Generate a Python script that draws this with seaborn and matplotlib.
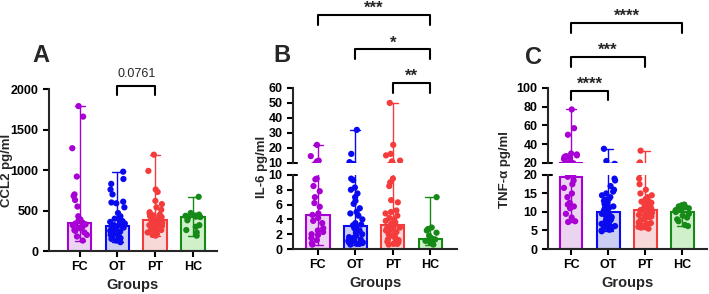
import numpy as np
import pandas as pd
import seaborn as sns
import matplotlib.pyplot as plt

# grupos y colores
grupos = ["FC", "OT", "PT", "HC"]
oscuros = ["#a800d4", "#0a0af0", "#f43c3c", "#168a16"]
claros = ["#ecd0f4", "#c4c8f8", "#fcd4d4", "#ccf6c4"]

# CCL2 (pg/ml)
ccl2_fc = [1790, 1660, 1270, 920, 700, 680, 630, 550, 430, 390, 380, 350, 340, 330,
           320, 300, 290, 280, 260, 250, 230, 200, 180, 130]
ccl2_ot = [980, 890, 830, 760, 700, 610, 600, 590, 540, 470, 430, 400, 380, 370, 360,
           350, 340, 330, 320, 310, 300, 300, 290, 280, 270, 260, 250, 240, 230, 220,
           210, 200, 190, 180, 170, 160, 150, 130, 110]
ccl2_pt = [1190, 990, 760, 730, 620, 580, 540, 510, 480, 460, 450, 440, 430, 420, 410,
           400, 395, 390, 385, 380, 375, 370, 365, 360, 350, 340, 330, 320, 310, 300,
           290, 280, 270, 260, 250, 230, 210, 200, 190]
ccl2_hc = [670, 470, 450, 440, 435, 430, 425, 420, 410, 380, 320, 300, 260, 230, 190]

# IL-6 (pg/ml)
il6_fc = [22, 14.5, 11.5, 11, 9.5, 9.4, 8.5, 7.8, 7.0, 6.2, 5.7, 4.8, 4.6, 4.2, 3.8,
          3.5, 2.8, 2.5, 2.3, 2.0, 1.9, 1.5, 1.2, 0.8, 0.6]
il6_ot = [32, 16, 10.5, 9.5, 9.3, 8.3, 8.0, 7.5, 7.0, 6.5, 6.1, 5.5, 5.0, 4.8, 4.5,
          4.0, 3.5, 3.3, 3.2, 3.1, 3.0, 2.8, 2.5, 2.2, 2.0, 1.8, 1.6, 1.5, 1.3, 1.2,
          1.1, 1.0, 0.9, 0.9, 0.8, 0.8, 0.7, 0.7, 0.6]
il6_pt = [50, 22, 16, 15, 11.5, 11, 9.5, 9.0, 8.5, 6.6, 6.3, 5.2, 5.0, 4.8, 4.5, 4.2,
          4.0, 3.8, 3.6, 3.4, 3.3, 3.2, 3.1, 3.0, 2.9, 2.8, 2.6, 2.5, 2.3, 2.2, 2.0,
          1.8, 1.6, 1.5, 1.3, 1.2, 1.1, 1.0, 0.9, 0.8, 0.7, 0.7, 0.6]
il6_hc = [7.0, 2.9, 2.7, 2.5, 2.2, 1.8, 1.5, 1.4, 1.3, 1.2, 1.1, 1.0, 0.9, 0.8, 0.6]

# TNF-a (pg/ml)
tnf_fc = [77, 57, 50, 30, 29, 28, 27, 27, 26, 25, 24, 22, 19.6, 19.5, 18.5, 17.5, 16.5,
          15, 14, 12.5, 12, 11.5, 11, 9.5, 8.5, 7.5, 7.3]
tnf_ot = [35, 22, 19, 18.5, 17, 16, 15.5, 15, 14.5, 14, 13.5, 13.3, 13, 12.8, 12.5,
          12.2, 12, 11.8, 11.5, 11.2, 11, 10.8, 10.5, 10.2, 10, 9.8, 9.5, 9.2, 9, 8.8,
          8.5, 8.2, 8, 8.0, 7.8, 7.5, 7.2, 7, 7.0, 6.8, 6.5, 6.2, 6, 6.0, 5.8, 5.5, 5.5,
          5.2, 5, 4.8]
tnf_pt = [33, 20.5, 19, 17.5, 16, 15, 14.5, 14, 13.5, 13, 12.8, 12.5, 12.3, 12, 11.8,
          11.6, 11.4, 11.2, 11, 10.9, 10.8, 10.7, 10.5, 10.3, 10.2, 10, 9.8, 9.6, 9.4,
          9.2, 9, 8.8, 8.6, 8.3, 8, 7.8, 7.5, 7.2, 7, 6.8, 6.5, 6.2, 6, 5.8, 5.5]
tnf_hc = [12, 11.8, 11.5, 11.2, 11, 10.8, 10.5, 10.2, 10, 9.5, 9, 8.5, 8, 7.5, 6.5, 6.2]


def tabla(valores):
    return pd.DataFrame({"grupo": np.repeat(grupos, [len(v) for v in valores]),
                         "valor": np.concatenate(valores)})


sns.set_style("ticks")
plt.rcParams["font.family"] = ["Liberation Sans", "DejaVu Sans"]
plt.rcParams["font.weight"] = "bold"
plt.rcParams["axes.linewidth"] = 1.5


def dibujar(ax, df, semilla, xlim):
    sns.barplot(data=df, x="grupo", y="valor", hue="grupo", order=grupos,
                hue_order=grupos, palette=claros, estimator="median",
                errorbar=("pi", 100), capsize=0.27, err_kws={"linewidth": 1.0},
                width=0.62, linewidth=1.5, legend=False, ax=ax)
    for p, c in zip(ax.patches, oscuros):
        p.set_edgecolor(c)
    for l, c in zip(ax.lines, oscuros):
        l.set_color(c)
    np.random.seed(semilla)
    sns.stripplot(data=df, x="grupo", y="valor", hue="grupo", order=grupos,
                  hue_order=grupos, palette=oscuros, size=4.5, jitter=0.2,
                  linewidth=0, legend=False, ax=ax, zorder=3)
    ax.set_xlim(*xlim)
    ax.set_xlabel("")
    ax.set_ylabel("")
    sns.despine(ax=ax)
    ax.tick_params(width=1.5, length=4, labelsize=9, colors="black")


def abajo(ax):
    ax.set_xlabel("Groups", fontsize=10.5, fontweight="bold", labelpad=3)


def arriba(ax):
    ax.spines["bottom"].set_visible(False)
    ax.tick_params(bottom=False, labelbottom=False)
    ax.plot([0, 0.025], [0, 0], transform=ax.transAxes, color="k", lw=1.5, clip_on=False)


def corchete(ax, x1, x2, y_alto, y_bajo, texto, y_texto, tam=12, peso="bold"):
    ax.plot([x1, x1, x2, x2], [y_bajo, y_alto, y_alto, y_bajo], color="k", lw=1.5,
            clip_on=False)
    ax.text((x1 + x2) / 2, y_texto, texto, ha="center", va="center", fontsize=tam,
            fontweight=peso, clip_on=False)


fig = plt.figure(figsize=(7.09, 2.94), dpi=100)

# Panel A
axA = fig.add_axes([0.069, 0.146, 0.237, 0.551])
dibujar(axA, tabla([ccl2_fc, ccl2_ot, ccl2_pt, ccl2_hc]), 1, (-0.82, 3.64))
axA.set_ylim(0, 2000)
axA.set_yticks([0, 500, 1000, 1500, 2000])
abajo(axA)
corchete(axA, 1, 2, 2037, 1926, "0.0761", 2190, tam=9, peso="normal")

# Panel B (eje cortado)
axB2 = fig.add_axes([0.413, 0.153, 0.232, 0.252])
axB1 = fig.add_axes([0.413, 0.446, 0.232, 0.255])
dfB = tabla([il6_fc, il6_ot, il6_pt, il6_hc])
dibujar(axB2, dfB, 2, (-0.67, 3.72))
dibujar(axB1, dfB, 2, (-0.67, 3.72))
axB2.set_ylim(0, 10)
axB2.set_yticks([0, 2, 4, 6, 8, 10])
axB1.set_ylim(10, 60)
axB1.set_yticks([10, 20, 30, 40, 50, 60])
axB2.plot([0, 0.025], [1, 1], transform=axB2.transAxes, color="k", lw=1.5, clip_on=False)
arriba(axB1)
abajo(axB2)
corchete(axB1, 0, 3, 108.7, 102, "***", 113)
corchete(axB1, 1, 3, 85.8, 79.1, "*", 90)
corchete(axB1, 2, 3, 63.5, 56.9, "**", 67.5)

# Panel C (eje cortado)
axC2 = fig.add_axes([0.773, 0.153, 0.224, 0.252])
axC1 = fig.add_axes([0.773, 0.446, 0.224, 0.255])
dfC = tabla([tnf_fc, tnf_ot, tnf_pt, tnf_hc])
dibujar(axC2, dfC, 3, (-0.62, 3.67))
dibujar(axC1, dfC, 3, (-0.62, 3.67))
axC2.set_ylim(0, 20)
axC2.set_yticks([0, 5, 10, 15, 20])
axC1.set_ylim(20, 100)
axC1.set_yticks([20, 40, 60, 80, 100])
axC2.plot([0, 0.025], [1, 1], transform=axC2.transAxes, color="k", lw=1.5, clip_on=False)
arriba(axC1)
abajo(axC2)
corchete(axC1, 0, 3, 169.7, 159, "****", 176)
corchete(axC1, 0, 2, 132.7, 122.7, "***", 140)
corchete(axC1, 0, 1, 97.2, 87.2, "****", 104)

# etiquetas
fig.text(7 / 709, 1 - 170 / 294, "CCL2 pg/ml", rotation=90, ha="center", va="center",
         fontsize=9.5, fontweight="bold")
fig.text(262 / 709, 1 - 167 / 294, "IL-6 pg/ml", rotation=90, ha="center", va="center",
         fontsize=9.5, fontweight="bold")
fig.text(505 / 709, 1 - 170 / 294, "TNF-α pg/ml", rotation=90, ha="center", va="center",
         fontsize=9.5, fontweight="bold")
for letra, x, y in [("A", 41, 55), ("B", 282, 55), ("C", 533, 57)]:
    fig.text(x / 709, 1 - y / 294, letra, ha="center", va="center", fontsize=17,
             fontweight="bold")

plt.savefig("out.png", dpi=100)
